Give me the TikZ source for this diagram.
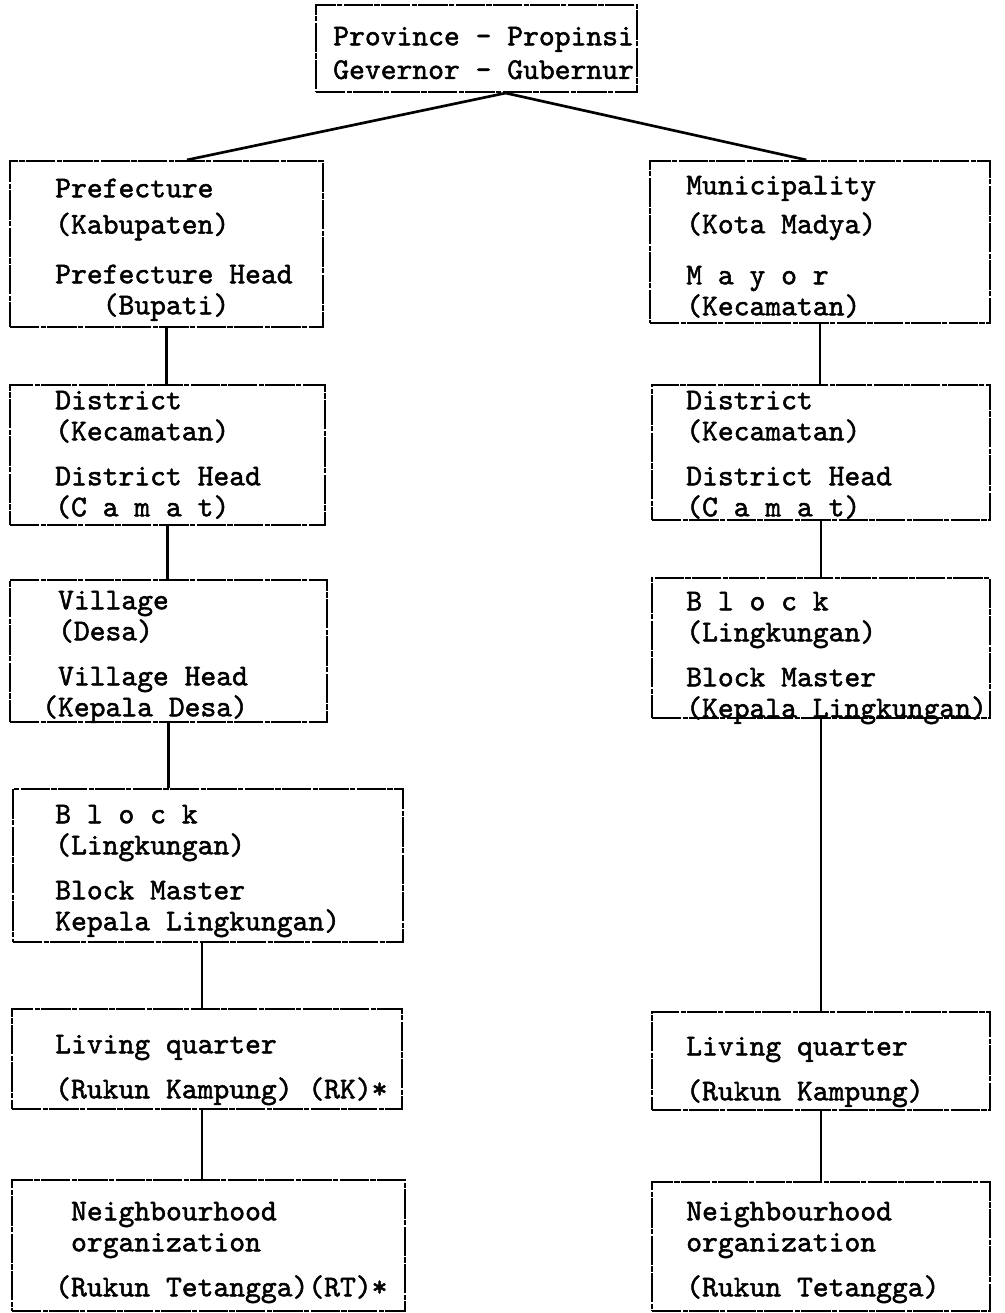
\documentclass[tikz,border=0pt]{standalone}
\usepackage{fontspec}
\newfontfamily\typed{lmmono10-regular}[Extension=.otf, FakeBold=1.6, WordSpace={1,0,0}]
\usetikzlibrary{fit,calc}
\tikzset{
  unit/.style={draw, line width=1.6pt, dash pattern=on 22pt off 1pt on 4pt off 1pt, inner sep=0pt},
  words/.style={anchor=north west, inner sep=0pt, yshift=17pt, align=left,
    font=\typed\fontsize{22.6}{23.25}\selectfont},
  link/.style={line width=1.6pt}
}
\newcommand{\up}{\rule{0pt}{17pt}}
\newcommand{\ind}{\phantom{x}}
\begin{document}
\begin{tikzpicture}[x=0.75pt, y=-0.75pt]
  \useasboundingbox (0,0) rectangle (1004,1313);

  \node[unit, fit={(316,5) (637,92)}] (prov) {};
  \node[unit, fit={(10,161) (323,327)}] (pref) {};
  \node[unit, fit={(650,161) (990,323)}] (muni) {};
  \node[unit, fit={(10,385) (325,525)}] (distL) {};
  \node[unit, fit={(652,385) (990,520)}] (distR) {};
  \node[unit, fit={(10,580) (327,722)}] (vill) {};
  \node[unit, fit={(652,578) (990,718)}] (blockR) {};
  \node[unit, fit={(13,789) (403,942)}] (blockL) {};
  \node[unit, fit={(12,1009) (402,1109)}] (livL) {};
  \node[unit, fit={(652,1012) (990,1110)}] (livR) {};
  \node[unit, fit={(12,1180) (405,1311)}] (neighL) {};
  \node[unit, fit={(652,1182) (990,1311)}] (neighR) {};

  \node[words] (provtxt) at (333,45) {\up Province - Propinsi\\[2pt] Gevernor - Gubernur};
  \node[words] (preftxt) at (55,197) {\up Prefecture\\[4pt] (Kabupaten)\\[14pt] Prefecture Head\\ \phantom{xxx}(Bupati)};
  \node[words] (munitxt) at (686,194) {\up Municipality\\[6pt] (Kota Madya)\\[15pt] M a y o r\\ (Kecamatan)};
  \node[words] (distLtxt) at (55,409) {\up District\\ (Kecamatan)\\[10.5pt] District Head\\ (C a m a t)};
  \node[words] (distRtxt) at (686,409) {\up District\\ (Kecamatan)\\[10.5pt] District Head\\ (C a m a t)};
  \node[words] (villtxt) at (42,609) {\up\ind Village\\ \ind(Desa)\\[10.5pt] \ind Village Head\\ (Kepala Desa)};
  \node[words] (blockRtxt) at (686,610) {\up B l o c k\\ (Lingkungan)\\[10.5pt] Block Master\\ (Kepala Lingkungan)};
  \node[words] (blockLtxt) at (55,823) {\up B l o c k\\ (Lingkungan)\\[10.5pt] Block Master\\ Kepala Lingkungan)};
  \node[words] (livLtxt) at (55,1053) {\up Living quarter\\[10.5pt] (Rukun Kampung) (RK)*};
  \node[words] (livRtxt) at (686,1055) {\up Living quarter\\[10.5pt] (Rukun Kampung)};
  \node[words] (neighLtxt) at (55,1220) {\up\ind Neighbourhood\\ \ind organization\\[10.5pt] (Rukun Tetangga)(RT)*};
  \node[words] (neighRtxt) at (686,1220) {\up Neighbourhood\\ organization\\[10.5pt] (Rukun Tetangga)};

  \draw[link, line width=2pt] ($(prov.south west)!0.59!(prov.south east)$) -- ($(pref.north west)!0.565!(pref.north east)$);
  \draw[link, line width=2pt] ($(prov.south west)!0.59!(prov.south east)$) -- ($(muni.north west)!0.46!(muni.north east)$);
  \begin{scope}[link]
    \draw (pref.south) -- (pref.south |- distL.north);
    \draw (distL.south) -- (distL.south |- vill.north);
    \draw (vill.south) -- (vill.south |- blockL.north);
    \draw ([xshift=-4.5pt]blockL.south) -- ([xshift=-4.5pt]blockL.south |- livL.north);
    \draw ([xshift=-4pt]livL.south) -- ([xshift=-4pt]livL.south |- neighL.north);
    \draw (muni.south) -- (muni.south |- distR.north);
    \draw (distR.south) -- (distR.south |- blockR.north);
    \draw (blockR.south) -- (blockR.south |- livR.north);
    \draw (livR.south) -- (livR.south |- neighR.north);
  \end{scope}
\end{tikzpicture}
\end{document}
